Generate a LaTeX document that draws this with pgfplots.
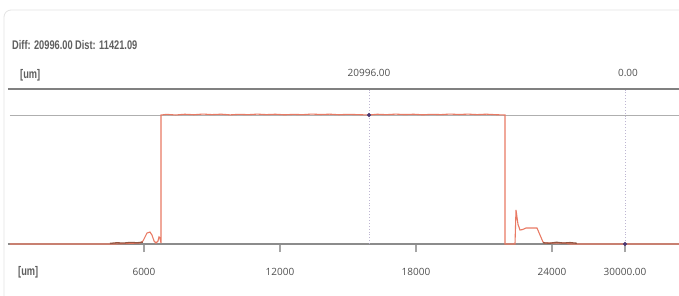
\documentclass[border=0pt]{standalone}
\usepackage{fontspec}
\setmainfont{Open Sans}
\newfontfamily\lcdfont{Liberation Sans}
\usepackage{graphicx}
\usepackage{pgfplots}
\pgfplotsset{compat=1.18}
\definecolor{redline}{RGB}{233,122,100}
\definecolor{darknoise}{RGB}{150,85,65}
\definecolor{topline}{RGB}{128,128,128}
\definecolor{refcol}{RGB}{175,175,175}
\definecolor{basecol}{RGB}{140,140,140}
\definecolor{tickcol}{RGB}{165,165,165}
\definecolor{dotcol}{RGB}{190,182,210}
\definecolor{markcol}{RGB}{75,55,115}
\definecolor{framecol}{RGB}{228,228,228}
\definecolor{labcol}{RGB}{80,80,80}
\definecolor{lcdcol}{RGB}{95,95,95}
\newcommand{\lcd}[1]{\scalebox{0.74}[1]{\lcdfont\bfseries #1}}
\begin{document}
\begin{tikzpicture}
\fill[white] (-8pt,-51pt) rectangle (671pt,244pt);
\useasboundingbox (-8pt,-51pt) rectangle (671pt,244pt);
\draw[framecol, line width=0.8pt, rounded corners=7pt] (-4pt,-60pt) rectangle (700pt,234pt);
\begin{axis}[
  width=671pt, height=154pt, scale only axis,
  xmin=0, xmax=29605, ymin=0, ymax=25065,
  clip=false,
  axis x line=bottom, axis y line=none,
  x axis line style={-, draw=basecol, line width=1.5pt},
  scaled x ticks=false,
  xtick={6000,12000,18000,24000},
  xticklabels={6000,12000,18000,24000},
  extra x ticks={27222},
  extra x tick labels={30000.00},
  extra x tick style={major tick style={draw=none}},
  tick align=outside,
  major tick length=8pt,
  xtick style={draw=tickcol, line width=1.2pt},
  xticklabel style={font=\fontsize{10}{12}\selectfont, text=labcol, yshift=-13pt},
]
% reference line and top bar
\addplot[refcol, line width=0.8pt] coordinates {(88,20996) (29605,20996)};
\addplot[topline, line width=2.6pt] coordinates {(0,25228) (29605,25228)};
% cursor lines
\addplot[dotcol, dotted, line width=0.9pt] coordinates {(15927,0) (15927,25065)};
\addplot[dotcol, dotted, line width=0.9pt] coordinates {(27222,0) (27222,25065)};
% profile
\addplot[redline, line width=1.1pt] coordinates {
(88,0) (4721,0) (5824,163) (5956,488) (6044,1139) (6133,1790) (6265,1953) (6353,1465)
(6442,488) (6530,163) (6618,488) (6662,1139) (6706,977) (6750,163) (6750,20996)
(7000,21100) (7400,21000) (7800,21120) (8200,21040) (8600,21150) (9000,21060)
(9400,21130) (9800,21020) (10200,21110) (10600,21050) (11000,21140) (11400,21060)
(11800,21120) (12200,21030) (12600,21100) (13000,21050) (13400,21150) (13800,21080)
(14200,21130) (14600,21040) (15000,21110) (15400,21060) (15927,21000) (16300,21120)
(16700,21050) (17100,21140) (17500,21070) (17900,21120) (18300,21030) (18700,21110)
(19100,21060) (19500,21150) (19900,21080) (20300,21140) (20700,21060) (21100,21130)
(21500,21050) (21900,21000) (21928,21000) (21928,0) (22369,0) (22413,5534)
(22501,3200) (22589,2279) (22700,2350) (22854,2604) (23339,2604) (23472,1465)
(23604,326) (23692,163) (24575,163) (24796,0) (29605,0)};
\addplot[darknoise, line width=1.3pt] coordinates {
(4500,100) (4800,200) (5100,150) (5400,260) (5700,200) (5950,300)};
\addplot[darknoise, line width=1.3pt] coordinates {
(23600,200) (23900,120) (24200,280) (24500,150) (24800,230) (25100,120)};
% cursor markers
\addplot[only marks, mark=*, mark size=1.8pt, markcol] coordinates {(15927,20996) (27222,0)};
% texts
\node[anchor=west, text=lcdcol, font=\fontsize{12.5}{14}\selectfont, inner sep=0pt] at (axis cs:176,32389) {\lcd{Diff: 20996.00 Dist: 11421.09}};
\node[anchor=west, text=lcdcol, font=\fontsize{12.5}{14}\selectfont, inner sep=0pt] at (axis cs:530,27506) {\lcd{[um]}};
\node[anchor=west, text=lcdcol, font=\fontsize{12.5}{14}\selectfont, inner sep=0pt] at (axis cs:441,-4557) {\lcd{[um]}};
\node[text=labcol, font=\fontsize{10}{12}\selectfont] at (axis cs:15927,27832) {20996.00};
\node[text=labcol, font=\fontsize{10}{12}\selectfont] at (axis cs:27354,27832) {0.00};
\end{axis}
\end{tikzpicture}
\end{document}
